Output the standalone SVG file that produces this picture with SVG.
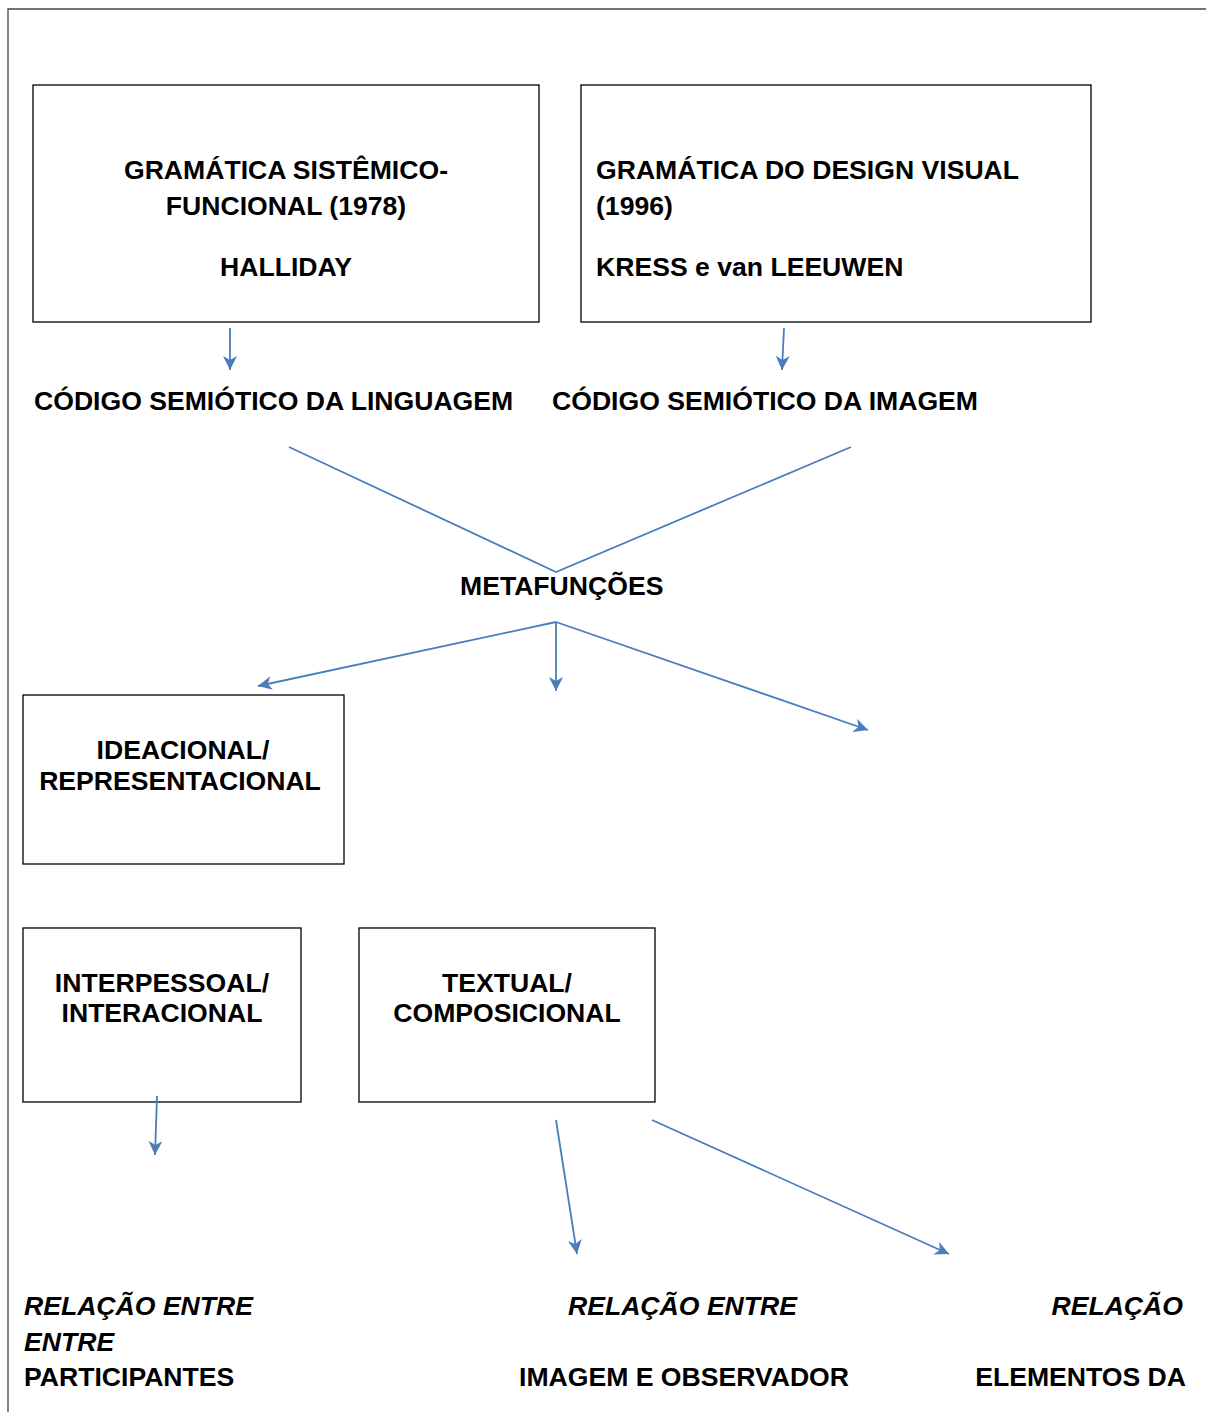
<svg xmlns="http://www.w3.org/2000/svg" width="1206" height="1412" viewBox="0 0 1206 1412">
<style>
.box{fill:#fff;stroke:#000;stroke-width:1.3}
.t{font-family:"Liberation Sans",Arial,sans-serif;font-weight:bold;font-size:26.6px;fill:#000}
.i{font-style:italic}
.c{text-anchor:middle}
.con{stroke:#4A7EBB;stroke-width:1.8;fill:none}
</style>
<defs>
<marker id="ah" markerUnits="userSpaceOnUse" markerWidth="16" markerHeight="14" viewBox="0 0 16 14" refX="14" refY="7" orient="auto">
<path d="M0,0 L14,7 L0,14 L4,7 z" fill="#4A7EBB"/>
</marker>
</defs>
<rect width="1206" height="1412" fill="#fff"/>
<path d="M8,1412 L8,9 L1206,9" fill="none" stroke="#444" stroke-width="1.3"/>

<g id="n1"><rect class="box" x="33" y="85" width="506" height="237"/>
<text class="t c" x="286" y="179">GRAMÁTICA SISTÊMICO-</text>
<text class="t c" x="286" y="215">FUNCIONAL (1978)</text>
<text class="t c" x="286" y="276">HALLIDAY</text></g>

<g id="n2"><rect class="box" x="581" y="85" width="510" height="237"/>
<text class="t" x="596" y="179">GRAMÁTICA DO DESIGN VISUAL</text>
<text class="t" x="596" y="215">(1996)</text>
<text class="t" x="596" y="276">KRESS e van LEEUWEN</text></g>

<g id="n3"><text class="t" x="34" y="410">CÓDIGO SEMIÓTICO DA LINGUAGEM</text></g>
<g id="n4"><text class="t" x="552" y="410">CÓDIGO SEMIÓTICO DA IMAGEM</text></g>
<g id="n5"><text class="t" x="460" y="595">METAFUNÇÕES</text></g>

<g id="n6"><rect class="box" x="23" y="695" width="321" height="169"/>
<text class="t c" x="183" y="759">IDEACIONAL/</text>
<text class="t c" x="180" y="790">REPRESENTACIONAL</text></g>

<g id="n7"><rect class="box" x="23" y="928" width="278" height="174"/>
<text class="t c" x="162" y="992">INTERPESSOAL/</text>
<text class="t c" x="162" y="1022">INTERACIONAL</text></g>

<g id="n8"><rect class="box" x="359" y="928" width="296" height="174"/>
<text class="t c" x="507" y="992">TEXTUAL/</text>
<text class="t c" x="507" y="1022">COMPOSICIONAL</text></g>

<g id="n9"><text class="t i" x="24" y="1315">RELAÇÃO ENTRE</text>
<text class="t i" x="24" y="1351">ENTRE</text>
<text class="t" x="24" y="1386">PARTICIPANTES</text></g>

<g id="n10"><text class="t i" x="568" y="1315">RELAÇÃO ENTRE</text>
<text class="t" x="519" y="1386">IMAGEM E OBSERVADOR</text></g>

<g id="n11"><text class="t i" x="1183" y="1315" text-anchor="end">RELAÇÃO</text>
<text class="t" x="1186" y="1386" text-anchor="end">ELEMENTOS DA</text></g>

<g id="connectors">
<line class="con" x1="230" y1="328" x2="230" y2="370" marker-end="url(#ah)"/>
<line class="con" x1="784" y1="328" x2="782" y2="370" marker-end="url(#ah)"/>
<polyline class="con" points="289,447 556,572 851,447"/>
<line class="con" x1="556" y1="622" x2="258" y2="686" marker-end="url(#ah)"/>
<line class="con" x1="556" y1="622" x2="556" y2="691" marker-end="url(#ah)"/>
<line class="con" x1="556" y1="622" x2="868" y2="730" marker-end="url(#ah)"/>
<line class="con" x1="157" y1="1096" x2="155" y2="1155" marker-end="url(#ah)"/>
<line class="con" x1="556" y1="1120" x2="577" y2="1254" marker-end="url(#ah)"/>
<line class="con" x1="652" y1="1120" x2="949" y2="1254" marker-end="url(#ah)"/>
</g>
</svg>
